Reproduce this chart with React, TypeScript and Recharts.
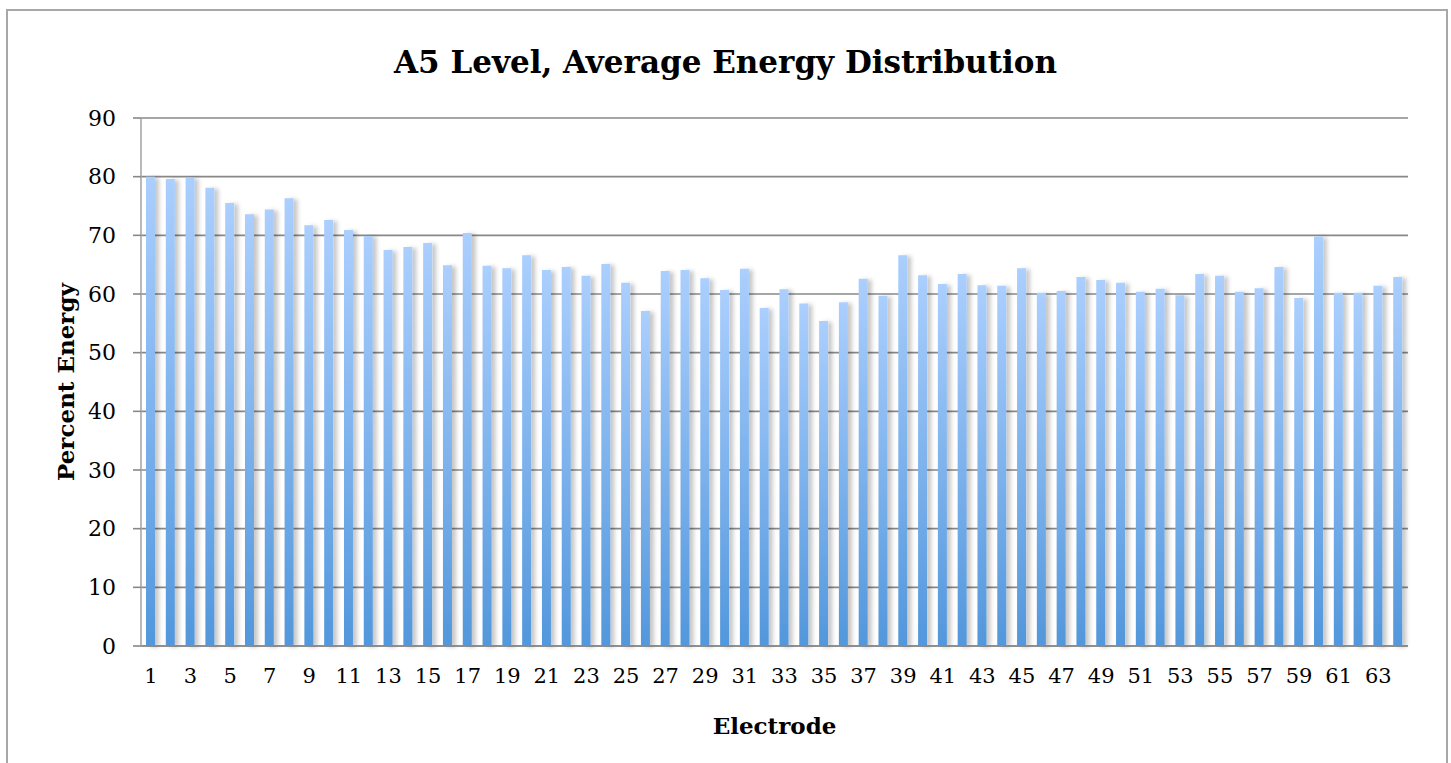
import React from "react";
import { BarChart, Bar, XAxis, YAxis, CartesianGrid } from "recharts";

// electrode index on the x axis
const electrodes = [
  1, 2, 3, 4, 5, 6, 7, 8, 9, 10, 11, 12, 13, 14, 15, 16,
  17, 18, 19, 20, 21, 22, 23, 24, 25, 26, 27, 28, 29, 30, 31, 32,
  33, 34, 35, 36, 37, 38, 39, 40, 41, 42, 43, 44, 45, 46, 47, 48,
  49, 50, 51, 52, 53, 54, 55, 56, 57, 58, 59, 60, 61, 62, 63, 64,
];

// average percent energy in the A5 level, per electrode
const percentEnergy = [
  80.0, 79.6, 79.8, 78.1, 75.5, 73.6, 74.4, 76.3, 71.7, 72.6, 70.9, 69.9, 67.5, 68.0, 68.7, 64.9,
  70.4, 64.8, 64.4, 66.6, 64.1, 64.6, 63.1, 65.1, 61.9, 57.1, 63.9, 64.1, 62.7, 60.7, 64.3, 57.6,
  60.8, 58.4, 55.4, 58.6, 62.6, 59.7, 66.6, 63.2, 61.7, 63.4, 61.5, 61.4, 64.4, 60.2, 60.5, 62.9,
  62.4, 61.9, 60.4, 60.9, 59.8, 63.4, 63.1, 60.4, 61.0, 64.6, 59.3, 69.8, 60.2, 60.2, 61.4, 62.9,
];

const yTicks = [0, 10, 20, 30, 40, 50, 60, 70, 80, 90];

const data = electrodes.map((e, i) => ({ electrode: e, energy: percentEnergy[i] }));

const FONT = "'DejaVu Serif', serif";
const GRID = "#888888";

export default function App() {
  return (
    <div
      style={{
        position: "absolute",
        left: 0,
        top: 0,
        width: 1451,
        height: 763,
        overflow: "hidden",
        background: "#fff",
      }}
    >
      <div
        style={{
          position: "absolute",
          left: 6,
          top: 9,
          width: 1438,
          height: 800,
          border: "2px solid #a8a8a8",
        }}
      />
      <div
        style={{
          position: "absolute",
          left: 0,
          width: 1451,
          top: 39,
          textAlign: "center",
          fontFamily: FONT,
          fontWeight: "bold",
          fontSize: 31,
          lineHeight: "46px",
          color: "#000",
        }}
      >
        A5 Level, Average Energy Distribution
      </div>
      <div style={{ position: "absolute", left: 0, top: 0 }}>
        <BarChart
          width={1451}
          height={763}
          data={data}
          margin={{ top: 118, right: 43, bottom: 0, left: 0 }}
          barSize={9}
        >
          <defs>
            <linearGradient id="barFill" x1="0" y1="0" x2="0" y2="1">
              <stop offset="0%" stopColor="#abcffe" />
              <stop offset="100%" stopColor="#5297dc" />
            </linearGradient>
            <filter id="barShadow" x="-50%" y="-10%" width="250%" height="120%">
              <feDropShadow dx="4" dy="1" stdDeviation="2" floodColor="#000" floodOpacity="0.22" />
            </filter>
          </defs>
          <CartesianGrid vertical={false} stroke={GRID} strokeWidth={1.6} />
          <XAxis
            dataKey="electrode"
            height={117}
            interval={1}
            tickLine={false}
            axisLine={{ stroke: GRID, strokeWidth: 1.6 }}
            tick={{ fontFamily: FONT, fontSize: 21, fill: "#000" }}
            tickMargin={16}
            label={{
              value: "Electrode",
              position: "insideBottom",
              offset: 29,
              style: { fontFamily: FONT, fontWeight: "bold", fontSize: 23, fill: "#000" },
            }}
          />
          <YAxis
            width={141}
            domain={[0, 90]}
            ticks={yTicks}
            interval={0}
            tickSize={8}
            tickLine={{ stroke: GRID, strokeWidth: 1.6 }}
            axisLine={{ stroke: "#a8a8a8", strokeWidth: 1.6 }}
            tick={{ fontFamily: FONT, fontSize: 22, fill: "#000" }}
            tickMargin={17}
            label={{
              value: "Percent Energy",
              angle: -90,
              position: "insideLeft",
              offset: 66,
              style: { textAnchor: "middle", fontFamily: FONT, fontWeight: "bold", fontSize: 23, fill: "#000" },
            }}
          />
          <Bar
            dataKey="energy"
            fill="url(#barFill)"
            filter="url(#barShadow)"
            isAnimationActive={false}
          />
        </BarChart>
      </div>
    </div>
  );
}
